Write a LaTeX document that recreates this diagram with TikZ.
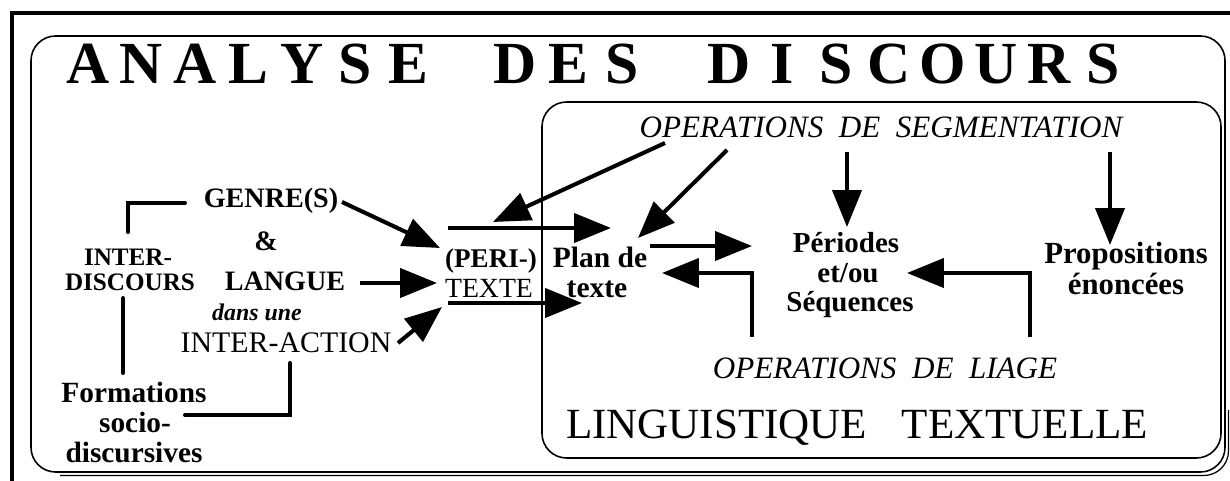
\documentclass[tikz,border=0pt]{standalone}
\usepackage{fontspec}
\setmainfont{Liberation Serif}
\usetikzlibrary{arrows.meta}
\newcommand\fsz[1]{\fontsize{#1}{#1}\selectfont}
\begin{document}
\begin{tikzpicture}[x=0.02cm,y=-0.02cm,
  lbl/.style={inner sep=0pt, anchor=base},
  ttl/.style={inner sep=0pt, anchor=base, font=\bfseries\fsz{34}},
  arr/.style={line width=2.3pt, -{Triangle[length=21pt,width=16.5pt]}},
  brk/.style={line width=2.3pt, line cap=round},
  frame/.style={line width=0.9pt, rounded corners=14pt}]
\useasboundingbox (0,0) rectangle (1230,480);
\clip (0,0) rectangle (1230,480);
% outer thick frame
\draw[line width=2.8pt] (12,495) -- (12,13) -- (1245,13);
% outer rounded box with shadow line
\draw[frame] (31,36) rectangle (1225,472);
\draw[line width=0.7pt, rounded corners=14pt] (1228.5,410) -- (1228.5,475.5) -- (60,475.5);
% inner box
\draw[frame] (542,102) rectangle (1221,458);
% title
\foreach \c/\k [count=\i] in {A/0,N/1,A/2,L/3,Y/4,S/5,E/6,D/8,E/9,S/10,D/12,I/13,S/14,C/15,O/16,U/17,R/18,S/19}
  \node[ttl] (t\i) at ({88+53.4*\k},83) {\c};
% left texts
\node[lbl,font=\bfseries\fsz{16}] (genre) at (271,207) {GENRE(S)};
\node[lbl,font=\bfseries\fsz{16}] (amp) at (266,250) {\&};
\node[lbl,font=\bfseries\fsz{14.3}] (inter) at (128,265) {INTER-};
\node[lbl,font=\bfseries\fsz{14.3}] (discours) at (130,290) {DISCOURS};
\node[lbl,font=\bfseries\fsz{16}] (langue) at (285,290) {LANGUE};
\node[lbl,font=\bfseries\itshape\fsz{13.6}] (dans) at (257,320) {dans une};
\node[lbl,font=\fsz{17}] (interaction) at (286,352) {INTER-ACTION};
\node[lbl,font=\bfseries\fsz{16.7}] (form) at (134,402) {Formations};
\node[lbl,font=\bfseries\fsz{16.7}] (socio) at (135,432) {socio-};
\node[lbl,font=\bfseries\fsz{16.7}] (discur) at (134,462) {discursives};
\node[lbl,font=\bfseries\fsz{15.4}] (peri) at (491,267) {(PERI-)};
\node[lbl,font=\fsz{15.8}] (texte) at (489,297) {TEXTE};
% right texts
\node[lbl,font=\bfseries\fsz{16.8}] (plan) at (600,267) {Plan de};
\node[lbl,font=\bfseries\fsz{16.8}] (ptexte) at (597,297) {texte};
\node[lbl,font=\itshape\fsz{17.7}] (seg) at (881,137) {OPERATIONS\hspace{0.5em}DE\hspace{0.5em}SEGMENTATION};
\node[lbl,font=\bfseries\fsz{16.5}] (per) at (846,252) {Périodes};
\node[lbl,font=\bfseries\fsz{16.5}] (etou) at (848,282) {et/ou};
\node[lbl,font=\bfseries\fsz{16.5}] (seq) at (850,311) {Séquences};
\node[lbl,font=\bfseries\fsz{17.5}] (prop) at (1126,263) {Propositions};
\node[lbl,font=\bfseries\fsz{17.5}] (enon) at (1126,294) {énoncées};
\node[lbl,font=\itshape\fsz{17.7}] (liage) at (885,378) {OPERATIONS\hspace{0.5em}DE\hspace{0.5em}LIAGE};
\node[lbl,font=\fsz{24.5}] (ling) at (857,438) {LINGUISTIQUE\hspace{0.8em}TEXTUELLE};
% connector coordinates
\coordinate (g1) at (342,202); \coordinate (g2) at (440,248);
\coordinate (l1) at (360,283); \coordinate (l2) at (437,283);
\coordinate (i1) at (398,343); \coordinate (i2) at (442,307);
\coordinate (u1) at (448,228); \coordinate (u2) at (611,228);
\coordinate (d1) at (448,303); \coordinate (d2) at (582,303);
\coordinate (s1) at (665,143); \coordinate (s2) at (493,222);
\coordinate (s3) at (727,150); \coordinate (s4) at (638,238);
\coordinate (s5) at (847,152); \coordinate (s6) at (847,227);
\coordinate (s7) at (1110,152); \coordinate (s8) at (1110,245);
\coordinate (p1) at (650,246); \coordinate (p2) at (752,246);
\coordinate (q1) at (752,337); \coordinate (q2) at (752,273); \coordinate (q3) at (662,273);
\coordinate (r1) at (1030,337); \coordinate (r2) at (1030,273); \coordinate (r3) at (907,273);
\coordinate (b1) at (185,203); \coordinate (b2) at (128,203); \coordinate (b3) at (128,232);
\coordinate (v1) at (123,298); \coordinate (v2) at (123,373);
\coordinate (c1) at (290,363); \coordinate (c2) at (290,415); \coordinate (c3) at (185,415);
% arrows
\draw[arr] (g1) -- (g2);
\draw[arr] (l1) -- (l2);
\draw[arr] (i1) -- (i2);
\draw[arr] (u1) -- (u2);
\draw[arr] (d1) -- (d2);
\draw[arr] (s1) -- (s2);
\draw[arr] (s3) -- (s4);
\draw[arr] (s5) -- (s6);
\draw[arr] (s7) -- (s8);
\draw[arr] (p1) -- (p2);
\draw[arr] (q1) -- (q2) -- (q3);
\draw[arr] (r1) -- (r2) -- (r3);
% plain connectors
\draw[brk] (b1) -- (b2) -- (b3);
\draw[brk] (v1) -- (v2);
\draw[brk] (c1) -- (c2) -- (c3);
\end{tikzpicture}
\end{document}
